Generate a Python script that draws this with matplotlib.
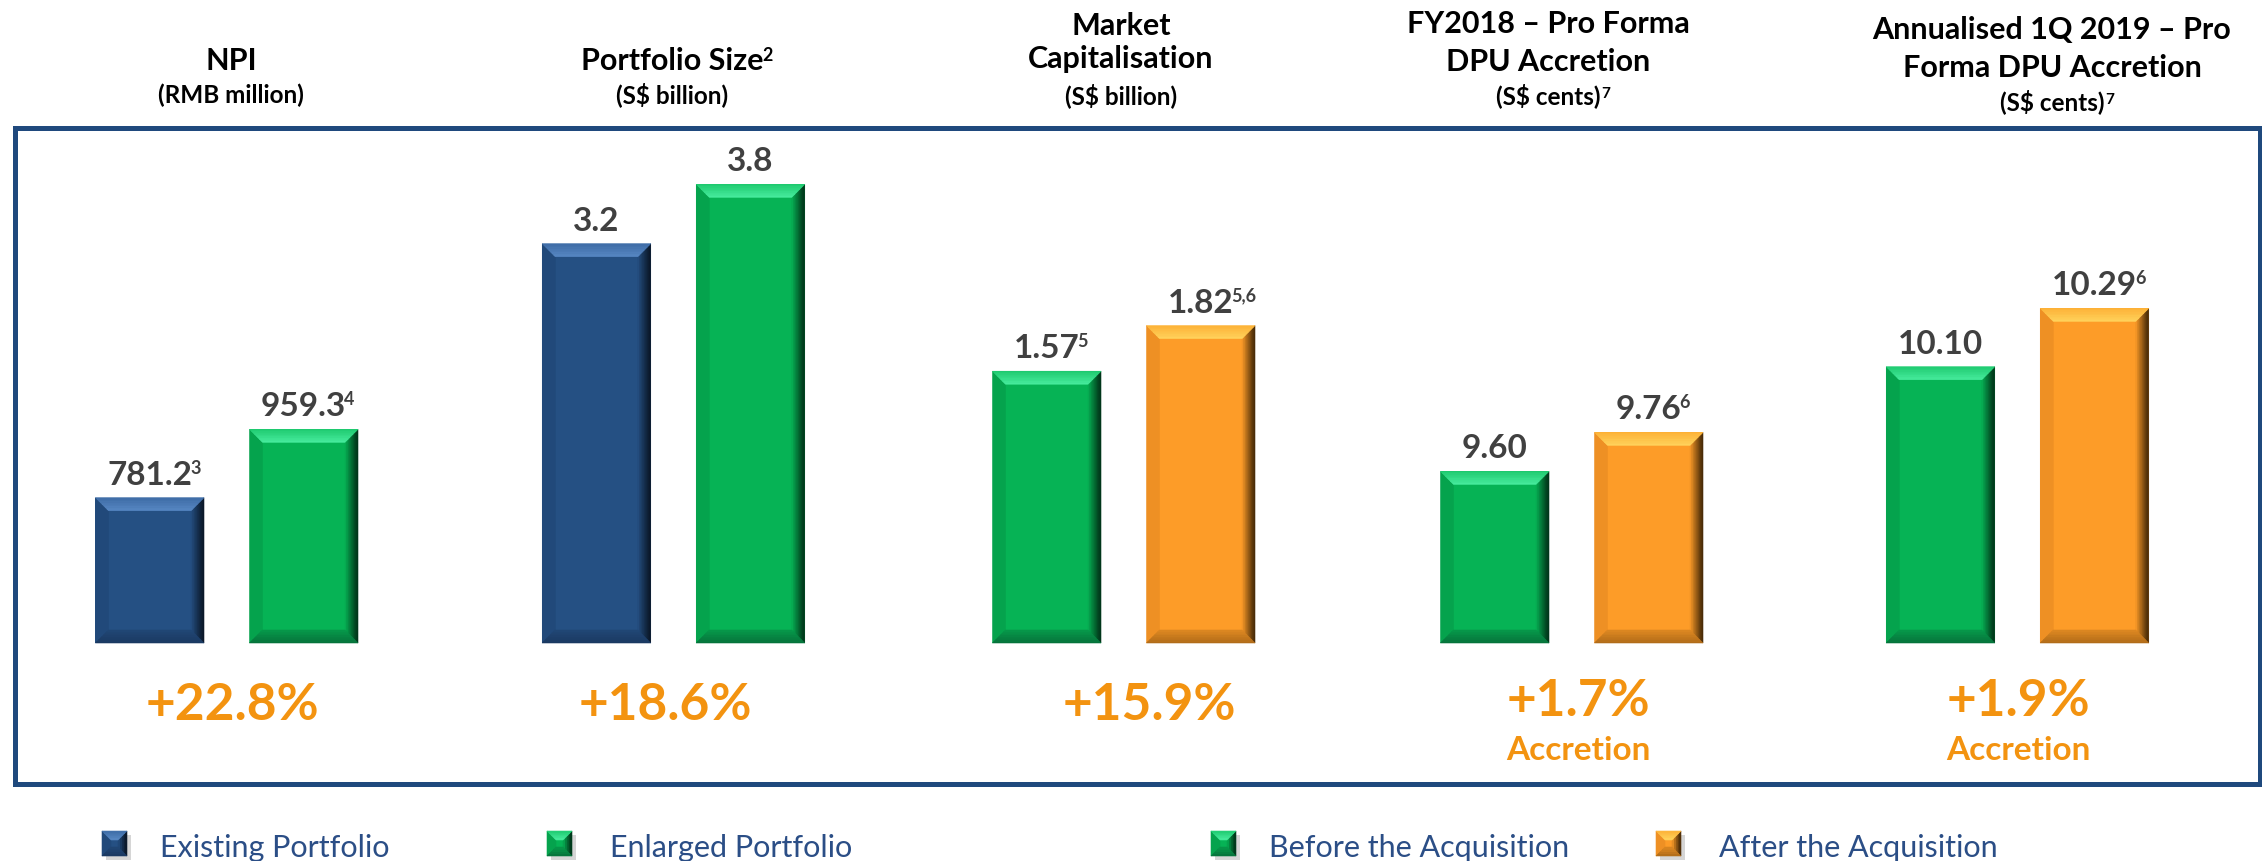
import matplotlib
matplotlib.use("Agg")
import matplotlib.pyplot as plt
from matplotlib.patches import Polygon, Rectangle
from matplotlib.transforms import IdentityTransform
import numpy as np

# ---------------- data ----------------
titles = [
    ["NPI", "(RMB million)"],
    ["Portfolio Size", "(S$ billion)"],
    ["Market", "Capitalisation", "(S$ billion)"],
    ["FY2018 \u2013 Pro Forma", "DPU Accretion", "(S$ cents)"],
    ["Annualised 1Q 2019 \u2013 Pro", "Forma DPU Accretion", "(S$ cents)"],
]
title_notes = [
    ["", ""],
    ["2", ""],
    ["", "", ""],
    ["", "", "7"],
    ["", "", "7"],
]
first_values = [781.2, 3.2, 1.57, 9.60, 10.10]
second_values = [959.3, 3.8, 1.82, 9.76, 10.29]
first_labels = ["781.2", "3.2", "1.57", "9.60", "10.10"]
second_labels = ["959.3", "3.8", "1.82", "9.76", "10.29"]
first_notes = ["3", "", "5", "", ""]
second_notes = ["4", "", "5,6", "6", "6"]
changes = ["+22.8%", "+18.6%", "+15.9%", "+1.7%", "+1.9%"]
change_subs = ["", "", "", "Accretion", "Accretion"]
first_series = ["Existing Portfolio", "Existing Portfolio", "Before the Acquisition",
                "Before the Acquisition", "Before the Acquisition"]
second_series = ["Enlarged Portfolio", "Enlarged Portfolio", "After the Acquisition",
                 "After the Acquisition", "After the Acquisition"]
legend_labels = ["Existing Portfolio", "Enlarged Portfolio",
                 "Before the Acquisition", "After the Acquisition"]

# ---------------- style ----------------
W, H = 2262, 862
FONT = "Lato"
ID = IdentityTransform()

PALETTES = {
    "blue":   dict(base="#255083", top_o="#3E6CA6", top_i="#5888C4", bot="#1A3860",
                   left="#21497A", dark="#0B1829"),
    "green":  dict(base="#06B355", top_o="#1FCB70", top_i="#48EC9E", bot="#06713A",
                   left="#05A34D", dark="#01361A"),
    "orange": dict(base="#FD9C28", top_o="#FDB237", top_i="#FFD35C", bot="#AE6A18",
                   left="#EE9024", dark="#4A2C08"),
}
series_palette = {
    "Existing Portfolio": "blue",
    "Enlarged Portfolio": "green",
    "Before the Acquisition": "green",
    "After the Acquisition": "orange",
}

# per-panel value scale (each panel has its own axis)
axis_floor = [402.9, -0.833, 0.080, 8.896, 9.201]
axis_ceil = [1704.6, 4.217, 2.821, 10.947, 10.828]

group_centers = [226.75, 673.5, 1123.75, 1571.75, 2017.5]
bar_pitch = 154.0
bar_w_px = 108.5
axes_top, axes_bottom = 144, 644

title_x = [231, 672, 1121, 1548, 2052]
title_baselines = [[70, 103], [70, 103], [35, 68, 104], [33, 71, 104], [39, 77, 110]]
change_x = [232, 665, 1149, 1578, 2018]
change_base = [720, 720, 720, 716, 716]

VAL_COLOR = "#404040"
ORANGE = "#F39310"
LEG_COLOR = "#2B4E86"
FRAME_COLOR = "#1F497D"

fig = plt.figure(figsize=(W / 100, H / 100), dpi=100)
fig.patch.set_facecolor("white")
renderer = fig.canvas.get_renderer()


def hexrgb(h):
    h = h.lstrip("#")
    return np.array([int(h[i:i + 2], 16) / 255 for i in (0, 2, 4)])


def mix(c1, c2, t):
    return tuple(hexrgb(c1) * (1 - t) + hexrgb(c2) * t)


def poly(pts, color, z=2):
    p = Polygon(pts, closed=True, transform=ID, facecolor=color, edgecolor=color,
                linewidth=0.4, zorder=z, clip_on=False)
    fig.add_artist(p)


def bevel(x0, y0, x1, y1, pal, b=13, n=8, z=2):
    # left side
    poly([(x0, y0), (x0 + b, y0 + b), (x0 + b, y1 - b), (x0, y1)], pal["left"], z)
    # right side gradient
    for k in range(n):
        xa = x1 - b + k * b / n
        xb = xa + b / n
        t = (k + 0.5) / n
        c = mix(pal["base"], pal["dark"], min(1.0, t * 1.1))
        poly([(xa, y0 + (x1 - xa)), (xb, y0 + (x1 - xb)),
              (xb, y1 - (x1 - xb)), (xa, y1 - (x1 - xa))], c, z)
    # top gradient
    for k in range(n):
        ya = y1 - k * b / n
        yb = ya - b / n
        t = (k + 0.5) / n
        c = mix(pal["top_o"], pal["top_i"], t)
        poly([(x0 + (y1 - ya), ya), (x1 - (y1 - ya), ya),
              (x1 - (y1 - yb), yb), (x0 + (y1 - yb), yb)], c, z)
    # bottom gradient
    for k in range(n):
        ya = y0 + k * b / n
        yb = ya + b / n
        t = (k + 0.5) / n
        c = mix(pal["bot"], pal["base"], t * 0.6)
        poly([(x0 + (ya - y0), ya), (x1 - (ya - y0), ya),
              (x1 - (yb - y0), yb), (x0 + (yb - y0), yb)], c, z)


def text_sup(xd, yd, s, fs, color, sup="", sup_fs=None, weight="bold", ha="center",
             gap=0.0):
    t = fig.text(xd, yd, s, transform=ID, fontsize=fs, color=color,
                 fontweight=weight, family=FONT, ha=ha, va="baseline")
    if sup:
        sfs = sup_fs if sup_fs else fs * 0.58
        bb = t.get_window_extent(renderer=renderer)
        rise = 0.7165 * (fs - sfs) * 100 / 72
        fig.text(bb.x1 + gap, yd + rise, sup, transform=ID, fontsize=sfs, color=color,
                 fontweight=weight, family=FONT, ha="left", va="baseline")
    return t


# ---------------- frame ----------------
fig.add_artist(Rectangle((14.5, H - 784.5), 2245, 656, transform=ID, fill=False,
                         edgecolor=FRAME_COLOR, linewidth=5 * 0.72, zorder=1))

# ---------------- panels ----------------
for i in range(len(first_values)):
    c = group_centers[i]
    ax = fig.add_axes([(c - 200) / W, (H - axes_bottom) / H, 400 / W,
                       (axes_bottom - axes_top) / H])
    ax.axis("off")
    half = 200 / bar_pitch
    ax.set_xlim(0.5 - half, 0.5 + half)
    lo, hi = axis_floor[i], axis_ceil[i]
    ax.set_ylim(lo, hi)
    vals = [first_values[i], second_values[i]]
    pals = [series_palette[first_series[i]], series_palette[second_series[i]]]
    bars = ax.bar([0, 1], [v - lo for v in vals], bottom=lo, width=bar_w_px / bar_pitch,
                  color=[PALETTES[p]["base"] for p in pals], edgecolor="none")
    labels = [first_labels[i], second_labels[i]]
    notes = [first_notes[i], second_notes[i]]
    for bar, pal, lab, note in zip(bars, pals, labels, notes):
        (x0, y0), (x1, y1) = ax.transData.transform(
            [[bar.get_x(), bar.get_y()],
             [bar.get_x() + bar.get_width(), bar.get_y() + bar.get_height()]])
        bevel(x0, y0, x1, y1, PALETTES[pal])
        text_sup((x0 + x1) / 2, y1 + 14, lab, 24, VAL_COLOR, sup=note, sup_fs=13,
                 gap=-2.0)

    # titles
    for line, note, yb in zip(titles[i], title_notes[i], title_baselines[i]):
        is_unit = line.startswith("(")
        text_sup(title_x[i], H - yb, line, 17.5 if is_unit else 22, "black",
                 sup=note, sup_fs=11 if is_unit else 13, gap=1.0 if is_unit else -1.0)

    # change labels
    fig.text(change_x[i], H - change_base[i], changes[i], transform=ID, fontsize=37,
             color=ORANGE, fontweight="bold", family=FONT, ha="center", va="baseline")
    if change_subs[i]:
        fig.text(change_x[i], H - 760, change_subs[i], transform=ID, fontsize=24,
                 color=ORANGE, fontweight="bold", family=FONT, ha="center", va="baseline")

# ---------------- legend ----------------
leg_icon_x = [102, 547, 1211, 1656]
leg_text_x = [160, 610, 1269, 1719]
for lab, ix, tx in zip(legend_labels, leg_icon_x, leg_text_x):
    pal = PALETTES[series_palette[lab]]
    # shadow
    fig.add_artist(Rectangle((ix + 4, H - 832 - 25 - 4), 25, 25, transform=ID,
                             facecolor="#BBBBBB", edgecolor="none", alpha=0.6, zorder=1))
    fig.add_artist(Rectangle((ix, H - 832 - 25), 25, 25, transform=ID,
                             facecolor=pal["base"], edgecolor="none", zorder=2))
    bevel(ix, H - 857, ix + 25, H - 832, pal, b=9, n=4, z=3)
    fig.text(tx, H - 857, lab, transform=ID, fontsize=22, color=LEG_COLOR,
             family=FONT, ha="left", va="baseline")

fig.savefig("out.png", dpi=100, facecolor="white")
